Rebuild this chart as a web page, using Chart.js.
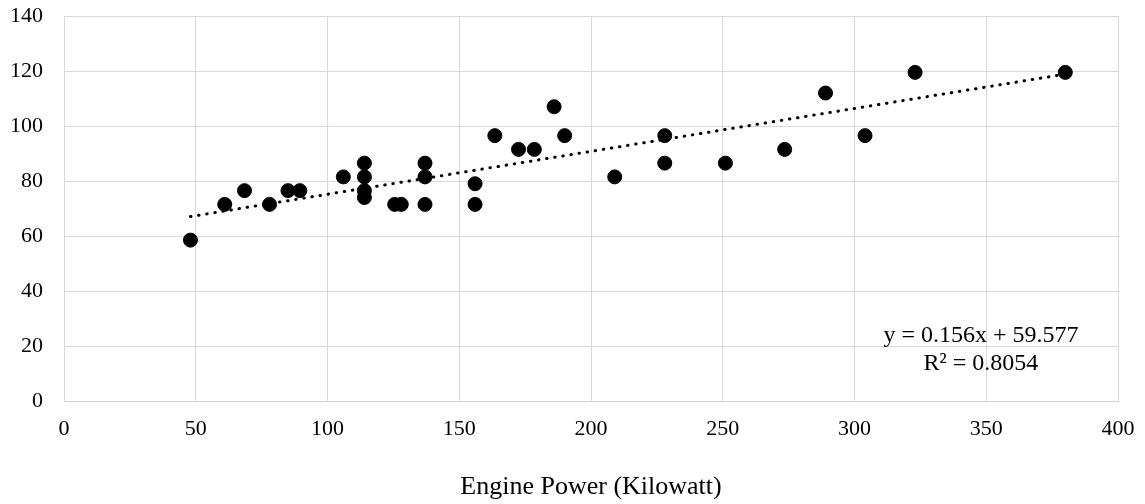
<!DOCTYPE html>
<html>
<head>
<meta charset="utf-8">
<script src="https://cdn.jsdelivr.net/npm/chart.js@4/dist/chart.umd.min.js"></script>
<style>
  html, body { margin: 0; padding: 0; background: #fff; }
  #wrap { width: 1145px; height: 504px; }
</style>
</head>
<body>
<div id="wrap"><canvas id="chart" width="1145" height="504"></canvas></div>
<script>
// engine power (kW) and the measured value for each vehicle
const enginePower = [48, 61, 68.5, 78, 85, 89.5, 106, 114, 114, 114, 114, 125.5, 128, 137, 137, 137,
    156, 156, 163.5, 172.5, 178.5, 186, 190, 209, 228, 228, 251, 273.5, 289, 304, 323, 380];
const measured = [58.5, 71.5, 76.5, 71.5, 76.5, 76.5, 81.5, 86.5, 81.5, 76.5, 74, 71.5, 71.5, 86.5, 81.5, 71.5,
    79, 71.5, 96.5, 91.5, 91.5, 107, 96.5, 81.5, 96.5, 86.5, 86.5, 91.5, 112, 96.5, 119.5, 119.5];

// linear trendline as printed on the chart
const trendSlope = 0.156;
const trendIntercept = 59.577;
const trendLabels = ['y = 0.156x + 59.577', 'R\u00b2 = 0.8054'];

const xTicks = [0, 50, 100, 150, 200, 250, 300, 350, 400];
const yTicks = [0, 20, 40, 60, 80, 100, 120, 140];

const points = enginePower.map((x, i) => ({ x: x, y: measured[i] }));
const xMin = Math.min(...enginePower);
const xMax = Math.max(...enginePower);
const trendPoints = [xMin, xMax].map(x => ({ x: x, y: trendSlope * x + trendIntercept }));

const serif = '"Liberation Serif", "Times New Roman", serif';

const trendText = {
    id: 'trendText',
    afterDatasetsDraw(chart) {
        const ctx = chart.ctx;
        const xs = chart.scales.x;
        const ys = chart.scales.y;
        const cx = xs.getPixelForValue(348);
        let cy = ys.getPixelForValue(23.9);
        ctx.save();
        ctx.font = '24px ' + serif;
        ctx.fillStyle = '#000';
        ctx.textAlign = 'center';
        ctx.textBaseline = 'middle';
        trendLabels.forEach(line => {
            ctx.fillText(line, cx, cy);
            cy += 28;
        });
        ctx.restore();
    }
};

const chart = new Chart(document.getElementById('chart'), {
    type: 'scatter',
    data: {
        datasets: [
            {
                label: 'Trend',
                type: 'line',
                data: trendPoints,
                borderColor: '#000',
                borderWidth: 3,
                borderDash: [0.5, 7.7],
                borderCapStyle: 'round',
                pointRadius: 0,
                fill: false,
                order: 0
            },
            {
                label: 'Data',
                data: points,
                backgroundColor: '#000',
                borderColor: '#000',
                pointRadius: 7,
                borderWidth: 1,
                order: 1
            }
        ]
    },
    options: {
        responsive: false,
        animation: false,
        layout: { padding: { top: 16, right: 27, bottom: 0, left: 0 } },
        plugins: {
            legend: { display: false },
            tooltip: { enabled: false }
        },
        scales: {
            x: {
                type: 'linear',
                min: 0,
                max: 400,
                afterBuildTicks: s => { s.ticks = xTicks.map(v => ({ value: v })); },
                afterFit: s => { s.height = 103; s.paddingLeft = 0; s.paddingRight = 0; },
                ticks: { color: '#000', padding: 15, font: { family: serif, size: 22 } },
                grid: { color: '#d9d9d9', lineWidth: 1, drawTicks: false },
                border: { color: '#d0d0d0', width: 1 },
                title: {
                    display: true,
                    text: 'Engine Power (Kilowatt)',
                    color: '#000',
                    font: { family: serif, size: 26 },
                    padding: { top: 0, bottom: 1 }
                }
            },
            y: {
                min: 0,
                max: 140,
                afterBuildTicks: s => { s.ticks = yTicks.map(v => ({ value: v })); },
                afterFit: s => { s.width = 64; s.paddingTop = 0; s.paddingBottom = 0; },
                ticks: { color: '#000', padding: 21, font: { family: serif, size: 22 } },
                grid: { color: '#d9d9d9', lineWidth: 1, drawTicks: false },
                border: { color: '#d9d9d9', width: 1 }
            }
        }
    },
    plugins: [trendText]
});
</script>
</body>
</html>
